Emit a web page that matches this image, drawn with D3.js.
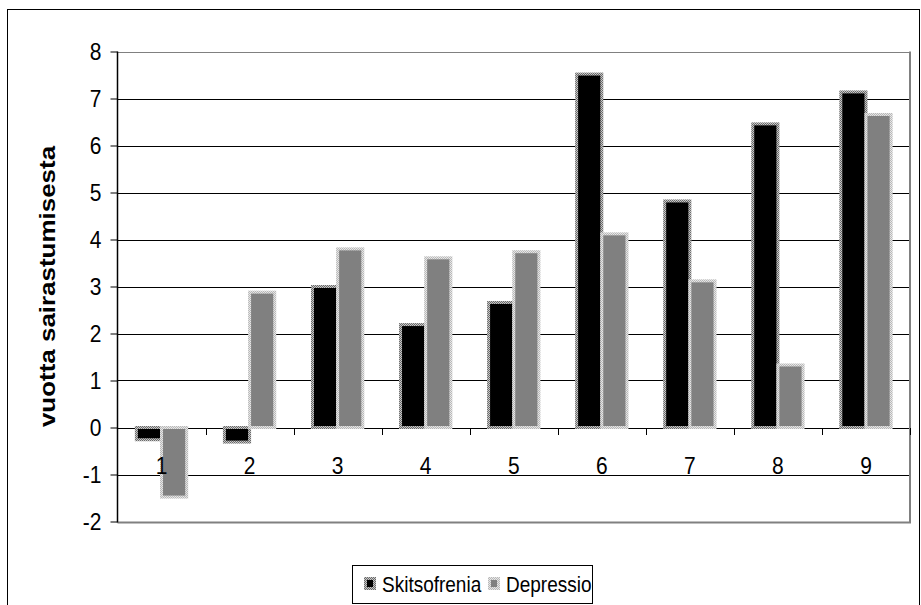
<!DOCTYPE html>
<html>
<head>
<meta charset="utf-8">
<script src="https://cdn.jsdelivr.net/npm/d3@7"></script>
<style>
  html, body { margin: 0; padding: 0; background: #fff; }
  svg { display: block; font-family: "Liberation Sans", Arial, sans-serif; }
</style>
</head>
<body>
<svg id="chart" width="921" height="605"></svg>
<script>
// ---- data ----
const categories = ["1", "2", "3", "4", "5", "6", "7", "8", "9"];
const seriesNames = ["Skitsofrenia", "Depressio"];
const skitsofrenia = [-0.26, -0.31, 3.0, 2.19, 2.66, 7.52, 4.82, 6.46, 7.14];
const depressio = [-1.48, 2.88, 3.80, 3.61, 3.74, 4.12, 3.12, 1.33, 6.66];
const yTicks = [-2, -1, 0, 1, 2, 3, 4, 5, 6, 7, 8];
const yTitle = "vuotta sairastumisesta";

// ---- layout ----
const svg = d3.select("#chart");
const plot = { left: 117.5, right: 910, top: 51.5, bottom: 521.5 };
const FONT = "Liberation Sans, Arial, sans-serif";
const STRETCH = 1.18; // text in the original is slightly taller than wide

const defs = svg.append("defs");
function checker(id, c1, c2) {
  const p = defs.append("pattern").attr("id", id)
    .attr("patternUnits", "userSpaceOnUse").attr("width", 2).attr("height", 2);
  p.append("rect").attr("width", 2).attr("height", 2).attr("fill", c1);
  p.append("rect").attr("width", 1).attr("height", 1).attr("fill", c2);
  p.append("rect").attr("x", 1).attr("y", 1).attr("width", 1).attr("height", 1).attr("fill", c2);
}
checker("borderS", "#c8c8c8", "#6a6a6a");
checker("borderD", "#e6e6e6", "#b8b8b8");

const fills = { Skitsofrenia: "#000000", Depressio: "#808080" };
const borders = { Skitsofrenia: "url(#borderS)", Depressio: "url(#borderD)" };

// outer chart border
svg.append("rect").attr("x", 7.5).attr("y", 9.5).attr("width", 912).attr("height", 600)
  .attr("fill", "#fff").attr("stroke", "#000").attr("stroke-width", 1);

const x = d3.scaleBand().domain(categories).range([plot.left, plot.right]).padding(0);
const xs = d3.scaleBand().domain(seriesNames).range([0, x.bandwidth()])
  .paddingInner(0).paddingOuter(0.75);
const y = d3.scaleLinear().domain([-2, 8]).range([plot.bottom, plot.top]);

// gridlines
svg.append("g").selectAll("line").data(yTicks.filter(t => t !== -2)).join("line")
  .attr("x1", plot.left).attr("x2", plot.right)
  .attr("y1", d => Math.round(y(d)) + 0.5).attr("y2", d => Math.round(y(d)) + 0.5)
  .attr("stroke", d => d === 8 ? "#808080" : "#000").attr("stroke-width", 1);

// plot area right & bottom border
svg.append("line").attr("x1", plot.right).attr("x2", plot.right)
  .attr("y1", plot.top).attr("y2", plot.bottom + 1)
  .attr("stroke", "#808080").attr("stroke-width", 2);
svg.append("line").attr("x1", plot.left).attr("x2", plot.right + 1)
  .attr("y1", plot.bottom + 1).attr("y2", plot.bottom + 1)
  .attr("stroke", "#808080").attr("stroke-width", 2);

// bars
const rows = categories.map((c, i) => ({ c, vals: [
  { s: "Skitsofrenia", v: skitsofrenia[i] },
  { s: "Depressio", v: depressio[i] }
]}));
const gBars = svg.append("g");
rows.forEach(r => {
  r.vals.forEach(d => {
    const x0 = x(r.c) + xs(d.s);
    const y0 = y(Math.max(0, d.v)), y1 = y(Math.min(0, d.v));
    gBars.append("rect")
      .attr("x", x0).attr("y", y0)
      .attr("width", xs.bandwidth()).attr("height", Math.max(0.5, y1 - y0))
      .attr("fill", fills[d.s]).attr("stroke", borders[d.s]).attr("stroke-width", 3);
  });
});

// y axis
const yAxis = d3.axisLeft(y).tickValues(yTicks).tickSize(7).tickPadding(9)
  .tickFormat(d => String(d));
const gy = svg.append("g").attr("transform", `translate(${plot.left},0)`).call(yAxis);
gy.attr("font-size", null).attr("font-family", null);
gy.select(".domain").attr("stroke", "#000").attr("stroke-width", 1.5)
  .attr("d", `M0,${plot.top}V${plot.bottom + 1}`);
gy.selectAll(".tick line").attr("stroke", "#000");
gy.selectAll(".tick text").style("font-size", "21px").attr("fill", "#000")
  .style("font-family", FONT).attr("dy", "0.33em")
  .attr("transform", `scale(1,${STRETCH})`);

// x axis at zero
const xAxis = d3.axisBottom(x).tickSize(0).tickPadding(24);
const gx = svg.append("g").attr("transform", `translate(0,${Math.round(y(0)) + 0.5})`).call(xAxis);
gx.attr("font-size", null).attr("font-family", null);
gx.select(".domain").remove();
gx.selectAll(".tick text").style("font-size", "21px").attr("fill", "#000")
  .style("font-family", FONT).attr("transform", `scale(1,${STRETCH})`);
// category boundary tick marks
const bounds = categories.map(c => x(c)).concat([plot.right]).slice(1);
svg.append("g").selectAll("line").data(bounds).join("line")
  .attr("x1", d => Math.round(d) + 0.5).attr("x2", d => Math.round(d) + 0.5)
  .attr("y1", Math.round(y(0))).attr("y2", Math.round(y(0)) + 7)
  .attr("stroke", "#000").attr("stroke-width", 1);

// y axis title
svg.append("text")
  .attr("transform", `translate(55,${(plot.top + plot.bottom) / 2}) scale(1,${STRETCH}) rotate(-90)`)
  .attr("text-anchor", "middle")
  .style("font-size", "22px").attr("font-weight", "bold").attr("fill", "#000")
  .text(yTitle);

// legend
const leg = svg.append("g");
leg.append("rect").attr("x", 352.5).attr("y", 565.5).attr("width", 240).attr("height", 38)
  .attr("fill", "#fff").attr("stroke", "#000").attr("stroke-width", 1);
const legX = [364, 488];
seriesNames.forEach((s, i) => {
  leg.append("rect").attr("x", legX[i] + 1.5).attr("y", 578.5).attr("width", 9).attr("height", 10)
    .attr("fill", fills[s]).attr("stroke", borders[s]).attr("stroke-width", 3);
  leg.append("text").attr("transform", `translate(${legX[i] + 18},592) scale(1,${STRETCH})`)
    .style("font-size", "19px").attr("fill", "#000").text(s);
});
</script>
</body>
</html>
